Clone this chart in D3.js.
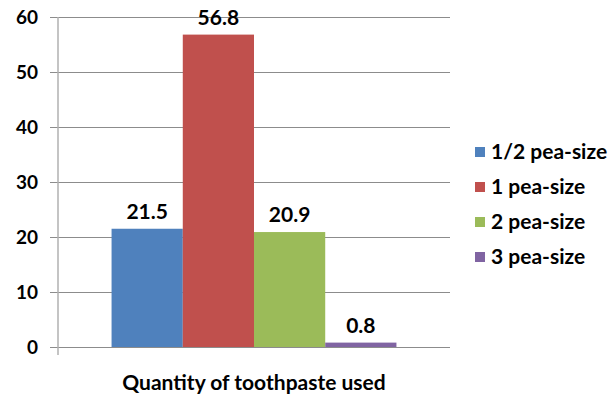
<!DOCTYPE html>
<html>
<head>
<meta charset="utf-8">
<script src="https://cdn.jsdelivr.net/npm/d3@7"></script>
<style>
  html, body { margin: 0; padding: 0; background: #fff; }
  svg { display: block; }
  text { font-family: Lato, "Open Sans", sans-serif; font-weight: bold; fill: #000; }
</style>
</head>
<body>
<svg id="chart" width="608" height="398"></svg>
<script>
// Share of respondents by amount of toothpaste used
const category = "Quantity of toothpaste used";
const seriesNames = ["1/2 pea-size", "1 pea-size", "2 pea-size", "3 pea-size"];
const seriesValues = [21.5, 56.8, 20.9, 0.8];
const seriesColors = ["#4F81BD", "#C0504D", "#9BBB59", "#8064A2"];
const yTicks = [0, 10, 20, 30, 40, 50, 60];

const svg = d3.select("#chart");
const plot = { left: 58, right: 450, top: 17, bottom: 347 };

const y = d3.scaleLinear().domain([0, 60]).range([plot.bottom, plot.top]);
const x0 = d3.scaleBand().domain([category]).range([plot.left, plot.right]).paddingInner(0).paddingOuter(0.188);
const x1 = d3.scaleBand().domain(seriesNames).range([0, x0.bandwidth()]).padding(0);

// horizontal gridlines with outward tick marks
const yAxis = d3.axisLeft(y).tickValues(yTicks).tickSize(-(plot.right - plot.left)).tickPadding(14).tickFormat(d3.format("d"));
const gy = svg.append("g").attr("transform", `translate(${plot.left},0)`).call(yAxis);
gy.select(".domain").remove();
gy.selectAll(".tick line").attr("x1", -8).attr("stroke", "#8c8c8c").attr("stroke-width", 1);
gy.selectAll(".tick text").attr("font-size", 19).attr("font-family", "'DejaVu Sans', sans-serif").attr("font-weight", "bold").attr("dx", -6);

// vertical axis line
svg.append("line")
  .attr("x1", plot.left).attr("x2", plot.left)
  .attr("y1", plot.top).attr("y2", plot.bottom + 8)
  .attr("stroke", "#b0b0b0").attr("stroke-width", 1.5);

// bars
const g = svg.append("g").attr("transform", `translate(${x0(category)},0)`);
g.selectAll("rect").data(seriesValues).join("rect")
  .attr("x", (d, i) => x1(seriesNames[i]))
  .attr("y", d => y(d))
  .attr("width", x1.bandwidth())
  .attr("height", d => y(0) - y(d))
  .attr("fill", (d, i) => seriesColors[i]);

// value labels
g.selectAll("text.val").data(seriesValues).join("text")
  .attr("class", "val")
  .attr("x", (d, i) => x1(seriesNames[i]) + x1.bandwidth() / 2)
  .attr("y", d => y(d) - 10)
  .attr("text-anchor", "middle")
  .attr("font-size", 21)
  .text(d => d3.format(".1f")(d));

// category axis title
svg.append("text")
  .attr("x", x0(category) + x0.bandwidth() / 2)
  .attr("y", 390)
  .attr("text-anchor", "middle")
  .attr("font-size", 21)
  .text(category);

// legend
const legend = svg.append("g").attr("transform", "translate(475,152)");
const items = legend.selectAll("g").data(seriesNames).join("g")
  .attr("transform", (d, i) => `translate(0,${i * 35})`);
items.append("rect").attr("x", 0).attr("y", -5).attr("width", 10).attr("height", 10)
  .attr("fill", (d, i) => seriesColors[i]);
items.append("text").attr("x", 16).attr("y", 0).attr("dy", "0.35em")
  .attr("font-size", 21).text(d => d);
</script>
</body>
</html>
